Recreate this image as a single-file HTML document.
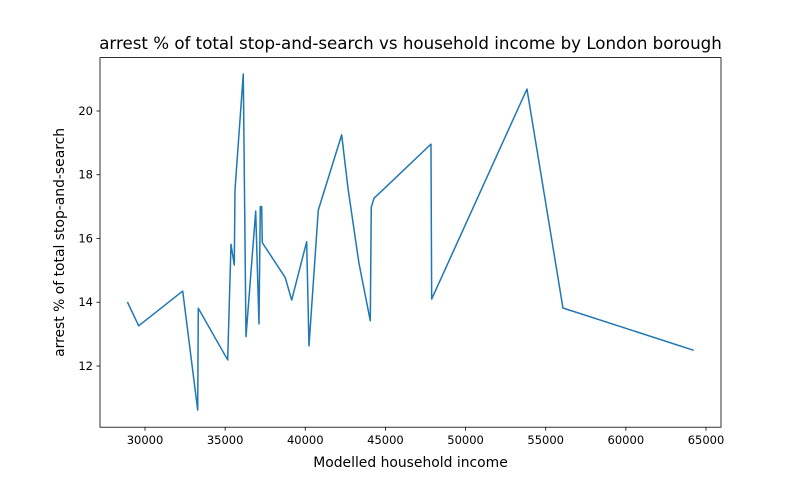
<!DOCTYPE html>
<html><head><meta charset="utf-8"><style>
body{margin:0;background:#fff;}
svg text{font-family:"DejaVu Sans","Liberation Sans",sans-serif;fill:#000;}
</style></head><body>
<svg id="chart" width="801" height="480" xmlns="http://www.w3.org/2000/svg">
<rect width="801" height="480" fill="#fff"/>
<text x="410.5" y="49" font-size="16.67" text-anchor="middle">arrest % of total stop-and-search vs household income by London borough</text>
<g id="xticks"></g>
<g id="yticks"></g>
<path id="line" fill="none" stroke="#1f77b4" stroke-width="1.5" stroke-linejoin="round" stroke-linecap="square"/>
<rect x="100" y="57.6" width="621" height="369.6" fill="none" stroke="#000" stroke-width="0.8"/>
<text x="410.5" y="467" font-size="13.9" text-anchor="middle">Modelled household income</text>
<text x="0" y="0" font-size="13.9" text-anchor="middle" transform="translate(64,242.4) rotate(-90)">arrest % of total stop-and-search</text>
</svg>
<script>
const incomes=[28921,29607,32352,33288,33325,35159,35365,35571,35614,36132,36301,36906,37112,37193,37280,37318,38752,39152,40087,40231,40811,42271,42664,43350,44055,44117,44286,47841,47885,53830,56076,64186];
const arrestPct=[13.99,13.26,14.35,10.62,13.81,12.19,15.82,15.17,17.52,21.16,12.92,16.86,13.32,17.0,17.0,15.87,14.77,14.07,15.9,12.63,16.89,19.25,17.58,15.22,13.42,16.98,17.26,18.96,14.1,20.69,13.82,12.5];
const xTickVals=[30000,35000,40000,45000,50000,55000,60000,65000];
const yTickVals=[12,14,16,18,20];
const L=100,R=721,T=57.6,B=427.2;
const xmin=27193,xmax=65936,ymin=10.08,ymax=21.675;
const sx=v=>L+(v-xmin)/(xmax-xmin)*(R-L);
const sy=v=>B-(v-ymin)/(ymax-ymin)*(B-T);
const NS="http://www.w3.org/2000/svg";
let d="";
incomes.forEach((x,i)=>{d+=(i?"L":"M")+sx(x).toFixed(2)+","+sy(arrestPct[i]).toFixed(2);});
document.getElementById('line').setAttribute('d',d);
const xg=document.getElementById('xticks');
xTickVals.forEach(v=>{
 const l=document.createElementNS(NS,'line');
 
 
 l.setAttribute('x1',sx(v));l.setAttribute('x2',sx(v));l.setAttribute('y1',B);l.setAttribute('y2',B+3.5);l.setAttribute('stroke','#000');l.setAttribute('stroke-width','0.8');
 xg.appendChild(l);
 const t=document.createElementNS(NS,'text');
 
 
 t.setAttribute('x',sx(v));t.setAttribute('y',B+17);t.setAttribute('font-size','11.5');t.setAttribute('text-anchor','middle');
 t.textContent=v;xg.appendChild(t);
});
const yg=document.getElementById('yticks');
yTickVals.forEach(v=>{
 const l=document.createElementNS(NS,'line');
 
 
 l.setAttribute('x1',L-3.5);l.setAttribute('x2',L);l.setAttribute('y1',sy(v));l.setAttribute('y2',sy(v));l.setAttribute('stroke','#000');l.setAttribute('stroke-width','0.8');
 yg.appendChild(l);
 const t=document.createElementNS(NS,'text');
 
 
 t.setAttribute('x',L-7);t.setAttribute('y',sy(v)+4);t.setAttribute('font-size','11.5');t.setAttribute('text-anchor','end');
 t.textContent=v;yg.appendChild(t);
});
</script>
</body></html>
